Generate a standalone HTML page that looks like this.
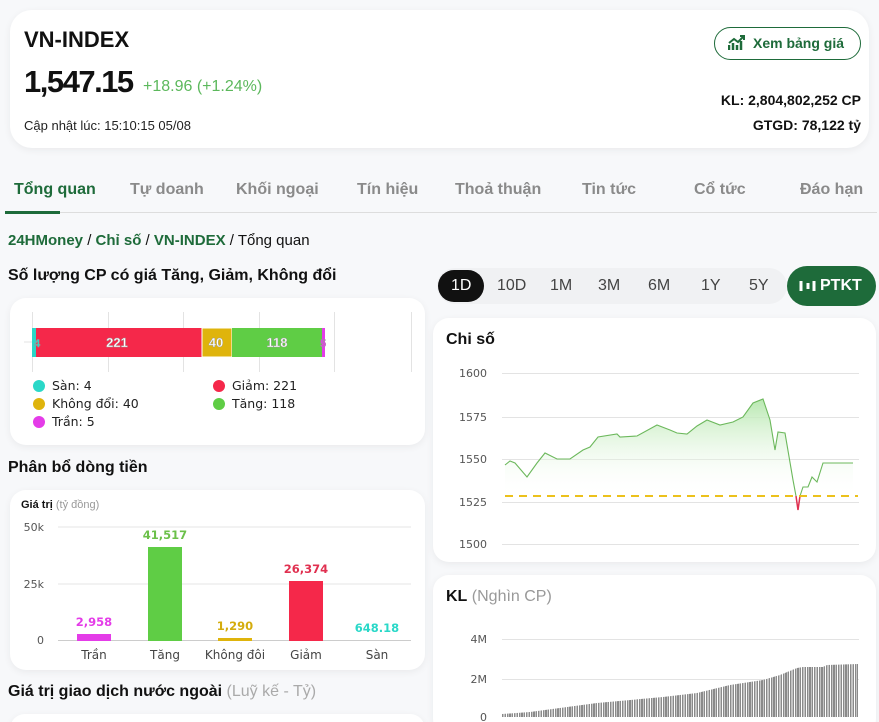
<!DOCTYPE html>
<html><head><meta charset="utf-8"><style>
*{box-sizing:border-box;margin:0;padding:0}
html,body{width:879px;height:722px;overflow:hidden}
body{background:#f7f8fa;font-family:"Liberation Sans","DejaVu Sans",sans-serif;color:#111;position:relative}
.a{position:absolute}
.card{position:absolute;background:#fff;border-radius:16px;box-shadow:0 2px 8px rgba(0,0,0,.06)}
.tab{position:absolute;top:181px;font-size:16px;color:#8a8a8a;font-weight:bold}
.dot{position:absolute;width:12px;height:12px;border-radius:50%}
.lg{position:absolute;font-size:12.5px;font-family:"DejaVu Sans",sans-serif;color:#222}
.per{position:absolute;top:277px;font-size:16px;color:#444}
</style></head><body>
<div class="card" style="left:10px;top:10px;width:859px;height:138px;border-radius:22px"></div>
<div class="a" style="left:24px;top:27px;font-size:22px;font-weight:bold">VN-INDEX</div>
<div class="a" style="left:24px;top:64px;font-size:31px;font-weight:bold;letter-spacing:-1.5px">1,547.15</div>
<div class="a" style="left:143px;top:78px;font-size:16px;color:#5cb85c">+18.96 (+1.24%)</div>
<div class="a" style="left:24px;top:118px;font-size:13px;color:#222">Cập nhật lúc: 15:10:15 05/08</div>
<div class="a" style="left:714px;top:27px;width:147px;height:33px;border:1.5px solid #1e6b3a;border-radius:17px;color:#1e6b3a;font-weight:bold;font-size:14px;line-height:30px;padding-left:38px">Xem bảng giá</div>
<svg class="a" style="left:728px;top:35px" width="18" height="16"><path d="M1 15V10M5 15V8M9 15V10M13 15V6" stroke="#1e6b3a" stroke-width="2.5"/><path d="M1 8L6 4L10 7L16 1M12 1H16V5" stroke="#1e6b3a" stroke-width="2" fill="none"/></svg>
<div class="a" style="right:18px;top:92px;font-size:14px;font-weight:bold">KL: 2,804,802,252 CP</div>
<div class="a" style="right:18px;top:117px;font-size:14px;font-weight:bold">GTGD: 78,122 tỷ</div>

<div class="tab" style="left:14px;color:#1e6b3a">Tổng quan</div>
<div class="tab" style="left:130px">Tự doanh</div>
<div class="tab" style="left:236px">Khối ngoại</div>
<div class="tab" style="left:357px">Tín hiệu</div>
<div class="tab" style="left:455px">Thoả thuận</div>
<div class="tab" style="left:582px">Tin tức</div>
<div class="tab" style="left:694px">Cổ tức</div>
<div class="tab" style="left:800px">Đáo hạn</div>
<div class="a" style="left:5px;top:212px;width:872px;height:1px;background:#ddd"></div>
<div class="a" style="left:5px;top:211px;width:55px;height:3px;background:#1e6b3a"></div>

<div class="a" style="left:8px;top:232px;font-size:15px"><b style="color:#1e6b3a">24HMoney</b> / <b style="color:#1e6b3a">Chỉ số</b> / <b style="color:#1e6b3a">VN-INDEX</b> / Tổng quan</div>
<div class="a" style="left:8px;top:267px;font-size:16px;font-weight:bold">Số lượng CP có giá Tăng, Giảm, Không đổi</div>

<div class="card" style="left:10px;top:298px;width:415px;height:147px"></div>
<svg class="a" style="left:0;top:300px" width="430" height="80">
<g stroke="#e3e3e3"><path d="M32.5 12V72M108.5 12V72M183.5 12V72M259.5 12V72M334.5 12V72M411.5 12V72M24 42H32"/></g>
<rect x="32" y="28" width="4" height="29" fill="#2ad8c8"/>
<rect x="36" y="28" width="166" height="29" fill="#f5284a"/>
<rect x="202" y="28" width="30" height="29" fill="#dfb40c" stroke="#fff" stroke-width="1"/>
<rect x="232" y="28" width="90" height="29" fill="#5fcd45"/>
<rect x="322" y="28" width="3" height="29" fill="#e43ce8"/>
<g font-family="Liberation Sans" font-size="13" font-weight="bold" fill="#fff" stroke="#999" stroke-width=".4" text-anchor="middle">
<text x="117" y="47">221</text><text x="216" y="47">40</text><text x="277" y="47">118</text><text x="37" y="47" font-size="11" fill="#2ad8c8">4</text><text x="323" y="47" font-size="11" fill="#e43ce8">5</text></g>
</svg>
<div class="dot" style="left:33px;top:380px;background:#2ad8c8"></div><div class="lg" style="left:52px;top:378px">Sàn: 4</div>
<div class="dot" style="left:213px;top:380px;background:#f5284a"></div><div class="lg" style="left:232px;top:378px">Giảm: 221</div>
<div class="dot" style="left:33px;top:398px;background:#dfb40c"></div><div class="lg" style="left:52px;top:396px">Không đổi: 40</div>
<div class="dot" style="left:213px;top:398px;background:#5fcd45"></div><div class="lg" style="left:232px;top:396px">Tăng: 118</div>
<div class="dot" style="left:33px;top:416px;background:#e43ce8"></div><div class="lg" style="left:52px;top:414px">Trần: 5</div>

<div class="a" style="left:8px;top:459px;font-size:16px;font-weight:bold">Phân bổ dòng tiền</div>
<div class="card" style="left:10px;top:490px;width:415px;height:180px"></div>
<div class="a" style="left:21px;top:499px;font-size:11px;font-weight:bold">Giá trị <span style="font-weight:normal;color:#999">(tỷ đồng)</span></div>
<svg class="a" style="left:0;top:515px" width="430" height="150" font-family="DejaVu Sans" font-size="11">
<g stroke="#e5e5e5"><path d="M58 12H411M58 69H411"/></g><path d="M58 125.5H411" stroke="#ccc"/>
<g fill="#555" text-anchor="end"><text x="44" y="16">50k</text><text x="44" y="73">25k</text><text x="44" y="129">0</text></g>
<rect x="77" y="119" width="34" height="7" fill="#e43ce8"/>
<rect x="148" y="32" width="34" height="94" fill="#5fcd45"/>
<rect x="218" y="123" width="34" height="3" fill="#dfb40c"/>
<rect x="289" y="66" width="34" height="60" fill="#f5284a"/>
<g text-anchor="middle" font-weight="bold" font-size="11.5"><text x="94" y="111" fill="#e43ce8">2,958</text><text x="165" y="24" fill="#6cc04a">41,517</text><text x="235" y="115" fill="#d4ac0d">1,290</text><text x="306" y="58" fill="#e03050">26,374</text><text x="377" y="117" fill="#2ad8c8">648.18</text></g>
<g text-anchor="middle" fill="#444" font-size="12"><text x="94" y="144">Trần</text><text x="165" y="144">Tăng</text><text x="235" y="144">Không đôi</text><text x="306" y="144">Giảm</text><text x="377" y="144">Sàn</text></g>
</svg>
<div class="a" style="left:8px;top:683px;font-size:16px;font-weight:bold">Giá trị giao dịch nước ngoài <span style="font-weight:normal;color:#aaa">(Luỹ kế - Tỷ)</span></div>
<div class="card" style="left:10px;top:714px;width:415px;height:30px"></div>

<div class="a" style="left:437px;top:268px;width:350px;height:36px;border-radius:18px;background:#f0f1f3"></div>
<div class="a" style="left:438px;top:270px;width:46px;height:32px;border-radius:16px;background:#111"></div>
<div class="per" style="left:451px;color:#fff">1D</div>
<div class="per" style="left:497px">10D</div>
<div class="per" style="left:550px">1M</div>
<div class="per" style="left:598px">3M</div>
<div class="per" style="left:648px">6M</div>
<div class="per" style="left:701px">1Y</div>
<div class="per" style="left:749px">5Y</div>
<div class="a" style="left:787px;top:266px;width:89px;height:40px;border-radius:20px;background:#1e6b3a;color:#fff;font-weight:bold;font-size:16px;line-height:40px;padding-left:33px">PTKT</div>
<svg class="a" style="left:799px;top:280px" width="18" height="12"><path d="M2 1V11M9 3V9M15 1V11" stroke="#fff" stroke-width="3"/></svg>

<div class="card" style="left:433px;top:318px;width:443px;height:244px"></div>
<div class="a" style="left:446px;top:331px;font-size:16px;font-weight:bold">Chi số</div>
<svg class="a" style="left:430px;top:320px" width="449" height="240" font-family="DejaVu Sans" font-size="11">
<defs><linearGradient id="g" x1="0" y1="0" x2="0" y2="1"><stop offset="0" stop-color="#b8e8b0"/><stop offset="1" stop-color="#fff" stop-opacity="0"/></linearGradient></defs>
<g stroke="#e3e3e3"><path d="M72 53.5H429M72 97.5H429M72 139.5H429M72 182.5H429M72 224.5H429"/></g>
<g fill="#555" text-anchor="end"><text x="57" y="57">1600</text><text x="57" y="101">1575</text><text x="57" y="143">1550</text><text x="57" y="186">1525</text><text x="57" y="228">1500</text></g>
<path d="M75 145L80 141L85 143L97 157L107 143L115 133L127 139L140 139L153 130L160 127L168 117L187 114L190 117L207 116L227 105L240 110L247 113L257 114L267 106L277 100L290 105L303 102L313 97L323 83L333 79L340 100L345 130L348 112L355 113L363 160L366 176L370 176L373 167L378 167L382 157L387 162L393 143L423 143V176H75Z" fill="url(#g)"/>
<path d="M75 145L80 141L85 143L97 157L107 143L115 133L127 139L140 139L153 130L160 127L168 117L187 114L190 117L207 116L227 105L240 110L247 113L257 114L267 106L277 100L290 105L303 102L313 97L323 83L333 79L340 100L345 130L348 112L355 113L363 160L366 176M370 176L373 167L378 167L382 157L387 162L393 143L423 143" fill="none" stroke="#6cb85c" stroke-width="1.1"/>
<path d="M366 176L368 190L370 176" fill="none" stroke="#e03050" stroke-width="1.5"/>
<path d="M75 176H428" stroke="#ecc11c" stroke-width="2" stroke-dasharray="8 6"/>
</svg>

<div class="card" style="left:433px;top:575px;width:443px;height:160px"></div>
<div class="a" style="left:446px;top:588px;font-size:16px"><b>KL</b> <span style="color:#999">(Nghìn CP)</span></div>
<svg class="a" style="left:430px;top:620px" width="449" height="102" font-family="DejaVu Sans" font-size="11">
<g stroke="#e3e3e3"><path d="M72 19.5H429M72 59.5H429"/></g>
<g fill="#555" text-anchor="end"><text x="57" y="23">4M</text><text x="57" y="63">2M</text><text x="57" y="101">0</text></g>
</svg>
<div class="a" style="left:502px;top:660px;width:356px;height:57px;background:repeating-linear-gradient(90deg,#8a8a8a 0 1.6px,#fff 1.6px 2.4px);clip-path:polygon(0 100%,0 54px,28px 52px,95px 43px,161px 37px,195px 33px,228px 25px,261px 20px,278px 15px,295px 8px,301px 7px,321px 7px,325px 5px,356px 4px,356px 100%)"></div>
</body></html>
